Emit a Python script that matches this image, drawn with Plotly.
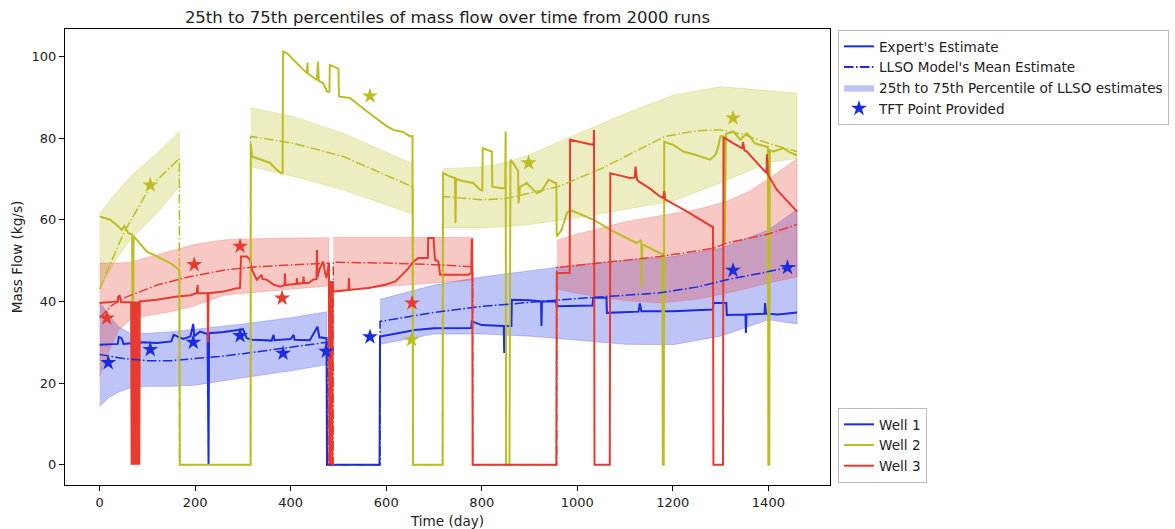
import plotly.graph_objects as go

# ---------------- data ----------------
# Well 1 expert estimate (day, kg/s)
W1_DAY = [0, 38, 40, 46, 50, 90, 120, 150, 155, 175, 190, 196, 198, 210, 226, 227, 228, 229, 260, 290, 300, 308,
          320, 360, 364, 366, 400, 406, 408, 440, 456, 460, 475, 476, 586, 587, 620, 660, 700, 778, 779, 800,
          846, 847, 848, 862, 863, 900, 924, 925, 926, 956, 957, 1000, 1032, 1033, 1061, 1062, 1128, 1131,
          1134, 1200, 1284, 1285, 1312, 1313, 1352, 1353, 1354, 1392, 1393, 1395, 1420, 1460]
W1_FLOW = [29.4, 29.6, 31.3, 31.0, 29.6, 30.0, 29.8, 30.2, 31.8, 30.8, 31.4, 34.5, 31.5, 32.6, 32.0, 0, 0, 32.2,
           32.5, 33.0, 33.2, 31.0, 30.6, 30.4, 31.8, 30.5, 30.8, 31.8, 30.6, 30.5, 33.8, 31.2, 31.0, 0, 0, 31.4,
           32.2, 33.0, 33.4, 33.5, 35.1, 34.2, 34.0, 27.4, 34.0, 34.0, 40.4, 40.3, 40.0, 34.0, 40.0, 40.0, 38.8,
           38.9, 39.0, 40.9, 40.9, 37.2, 37.5, 39.5, 37.6, 37.6, 38.0, 39.6, 39.6, 36.7, 36.8, 32.3, 36.8,
           37.0, 39.6, 37.0, 36.8, 37.3]

# Well 2 expert estimate
W2_DAY = [0, 22, 36, 46, 52, 60, 68, 69, 70, 71, 78, 99, 127, 148, 167, 168, 316, 316.5, 319, 336, 357, 371,
          381, 383, 384, 392, 406, 420, 434, 435, 436, 455, 457, 459, 468, 476, 481, 482, 500, 501, 524, 560,
          600, 615, 635, 650, 655, 656, 718, 719, 733, 744, 745, 746, 760, 782, 797, 801, 802, 821, 822, 842,
          849, 850, 851, 858, 860, 866, 876, 877, 880, 894, 915, 925, 940, 954, 956, 957, 967, 978, 985, 1034,
          1069, 1124, 1134, 1135, 1136, 1173, 1178, 1179, 1181, 1182, 1201, 1222, 1250, 1278, 1290, 1295,
          1300, 1308, 1309, 1311, 1327, 1341, 1355, 1372, 1383, 1397, 1399, 1400, 1402, 1403, 1410, 1431,
          1445, 1460]
W2_FLOW = [60.8, 60.0, 58.7, 57.5, 58.5, 56.7, 56.4, 0, 0, 56.0, 55.0, 52.2, 50.6, 49.4, 47.7, 0, 0, 78.7, 75.5,
           74.7, 73.9, 72.2, 71.4, 71.2, 101.2, 100.8, 99.1, 97.5, 95.9, 98.5, 95.8, 94.2, 98.7, 94.0, 93.4,
           91.4, 91.3, 97.9, 97.0, 90.2, 89.8, 86.5, 83.0, 82.0, 81.5, 80.4, 80.5, 0, 0, 71.4, 70.6, 70.2,
           59.2, 70.0, 69.5, 69.0, 67.3, 67.2, 77.5, 76.7, 68.1, 67.7, 67.8, 81.6, 0, 0, 74.7, 73.8, 72.0,
           64.0, 68.0, 69.0, 66.5, 67.0, 69.8, 69.0, 69.0, 55.9, 57.5, 61.6, 62.4, 60.0, 57.5, 54.3, 55.0,
           43.6, 54.0, 51.8, 51.6, 0, 0, 79.1, 78.3, 76.7, 75.8, 74.7, 76.0, 77.9, 80.5, 80.3, 54.0, 81.0,
           81.6, 79.6, 81.2, 78.7, 78.3, 77.9, 77.8, 0, 0, 77.0, 76.7, 77.5, 76.5, 75.8]

# Well 3 expert estimate
W3_DAY = [0, 38, 39, 42, 45, 66, 67, 68, 69, 70, 71, 72, 73, 74, 75, 76, 77, 78, 79, 80, 81, 82, 83, 84, 120,
          162, 190, 203, 205, 206, 226, 227, 228, 259, 287, 294, 296, 308, 315, 319, 329, 339, 341, 350, 364,
          378, 387, 388, 389, 402, 412, 413, 414, 426, 427, 428, 437, 447, 454, 455, 456, 461, 468, 472, 475,
          480, 481, 482, 483, 484, 485, 486, 487, 488, 489, 521, 522, 523, 563, 598, 619, 633, 646, 657, 667,
          687, 688, 699, 702, 709, 713, 772, 778, 779, 780, 781, 956, 957, 978, 984, 985, 1000, 1020, 1034,
          1035, 1036, 1068, 1069, 1090, 1110, 1120, 1122, 1125, 1131, 1150, 1173, 1180, 1182, 1184, 1230,
          1282, 1284, 1285, 1305, 1306, 1309, 1327, 1345, 1347, 1350, 1355, 1380, 1396, 1397, 1399, 1418,
          1440, 1460]
W3_FLOW = [39.6, 40.0, 41.2, 41.4, 39.8, 39.8, 0, 40, 0, 40, 0, 40, 0, 40, 0, 40, 0, 40, 0, 40, 0, 40, 0, 40.0,
           40.4, 41.2, 41.5, 42.0, 44.0, 42.0, 42.0, 30.0, 42.0, 42.4, 43.2, 43.3, 51.0, 51.0, 50.2, 47.7,
           45.3, 46.5, 45.5, 45.3, 44.1, 43.6, 44.0, 46.9, 44.0, 44.1, 44.3, 45.7, 44.3, 44.5, 46.1, 44.5,
           44.5, 45.3, 45.5, 52.6, 46.0, 48.1, 49.8, 47.0, 45.7, 49.4, 0, 45, 0, 45, 0, 45, 0, 45, 42.4,
           42.8, 45.7, 42.8, 43.3, 44.1, 44.9, 46.5, 48.1, 49.8, 50.6, 50.6, 55.5, 55.5, 50.2, 49.8, 46.5,
           46.5, 47.0, 55.1, 55.1, 0, 0, 46.9, 46.9, 47.0, 79.6, 79.2, 78.7, 78.3, 82.0, 0, 0, 71.4, 70.8,
           70.2, 70.3, 73.0, 69.8, 69.2, 67.8, 65.7, 65.3, 67.0, 65.0, 62.0, 58.3, 58.3, 0, 0, 80.0, 80.0,
           78.7, 77.5, 79.0, 77.0, 76.7, 73.5, 71.4, 76.0, 71.0, 67.3, 64.5, 62.0]

# LLSO mean estimates (zero while the well is shut in)
W1_MEAN_DAY = [0, 50, 100, 150, 200, 250, 300, 350, 400, 476, 476, 587, 587, 700, 800, 900, 1000, 1100, 1173,
               1250, 1313, 1400, 1460]
W1_MEAN = [27.0, 26.0, 25.5, 25.5, 26.0, 26.5, 27.2, 28.0, 28.7, 30.0, 0, 0, 35.1, 37.3, 38.8, 39.8, 40.7,
           41.5, 42.1, 43.5, 45.3, 47.3, 48.8]
W2_MEAN_DAY = [0, 11, 50, 106, 140, 167, 167, 316, 316, 406, 510, 600, 656, 656, 718, 718, 800, 850, 900, 960,
               1050, 1100, 1184, 1250, 1300, 1350, 1400, 1460]
W2_MEAN = [43.0, 46.0, 56.7, 68.1, 72.0, 75.0, 0, 0, 80.4, 78.7, 75.5, 71.0, 68.0, 0, 0, 65.7, 64.9, 65.2, 66.5,
           68.1, 72.5, 75.5, 80.4, 81.8, 82.0, 80.8, 78.7, 76.7]
W3_MEAN_DAY = [0, 25, 50, 120, 190, 263, 330, 400, 480, 480, 489, 489, 600, 700, 781, 781, 957, 957, 1050,
               1173, 1285, 1313, 1400, 1460]
W3_MEAN = [36.0, 39.0, 40.8, 44.0, 46.1, 47.7, 48.5, 49.0, 49.4, 0, 0, 49.6, 49.4, 49.0, 48.5, 0, 0, 48.3,
           49.5, 51.0, 53.0, 54.3, 56.5, 58.8]

# 25th-75th percentile bands, one list per model segment
W1_BAND_DAY = [[0, 20, 40, 64, 100, 150, 200, 300, 400, 476],
               [587, 700, 800, 900, 1000, 1100, 1200, 1300, 1400, 1460]]
W1_BAND_LO = [[14.3, 16.5, 17.8, 18.8, 19.2, 19.2, 19.5, 21.3, 23.0, 24.5],
              [29.5, 32.0, 32.0, 31.5, 30.5, 29.5, 29.4, 31.5, 35.5, 34.5]]
W1_BAND_HI = [[40.0, 36.5, 33.8, 32.2, 32.2, 32.6, 33.2, 34.5, 36.0, 37.5],
              [40.5, 44.0, 46.0, 47.5, 49.0, 50.0, 51.0, 53.0, 57.5, 62.5]]

W2_BAND_DAY = [[0, 30, 64, 120, 167],
               [316, 406, 510, 650, 656],
               [718, 800, 850, 900, 1000, 1100, 1200, 1300, 1400, 1460]]
W2_BAND_LO = [[43.0, 49.5, 55.0, 61.6, 68.0],
              [73.0, 70.6, 67.3, 61.6, 61.4],
              [58.0, 58.0, 58.3, 58.8, 60.5, 62.5, 64.5, 69.0, 74.0, 75.0]]
W2_BAND_HI = [[61.6, 66.0, 70.6, 76.3, 81.6],
              [87.5, 85.3, 81.2, 73.9, 73.7],
              [72.5, 73.0, 74.0, 76.0, 81.0, 86.0, 90.5, 92.6, 91.6, 91.0]]

W3_BAND_DAY = [[0, 20, 40, 64, 100, 150, 200, 263, 300, 400, 480],
               [489, 550, 600, 650, 700, 781],
               [957, 1000, 1050, 1100, 1173, 1250, 1313, 1360, 1400, 1430, 1460]]
W3_BAND_LO = [[21.6, 28.0, 33.0, 35.5, 36.5, 37.5, 39.0, 41.6, 42.0, 43.0, 43.8],
              [42.8, 43.2, 43.6, 44.0, 44.5, 45.2],
              [43.0, 42.0, 41.0, 40.2, 39.6, 40.5, 42.0, 43.3, 44.5, 45.3, 46.0]]
W3_BAND_HI = [[49.4, 49.4, 49.4, 49.6, 50.8, 52.5, 54.0, 55.1, 55.3, 55.5, 55.6],
              [55.7, 55.7, 55.7, 55.7, 55.7, 55.7],
              [55.0, 56.5, 58.0, 59.5, 61.0, 62.5, 64.5, 67.0, 70.0, 72.5, 75.0]]

# TFT points provided
W1_TFT_DAY = [18, 106, 196, 294, 384, 474, 566, 1326, 1440]
W1_TFT = [25.0, 28.2, 30.0, 31.6, 27.3, 27.8, 31.3, 47.6, 48.3]
W2_TFT_DAY = [106, 566, 653, 898, 1326]
W2_TFT = [68.5, 90.3, 30.6, 73.9, 84.9]
W3_TFT_DAY = [15, 198, 294, 382, 654]
W3_TFT = [35.9, 49.0, 53.5, 40.8, 39.6]

WELLS = ["Well 1", "Well 2", "Well 3"]

# ---------------- styling ----------------
BLUE = "#1a2be0"
OLIVE = "#bcbd22"
RED = "#e63b2e"
COLORS = [BLUE, OLIVE, RED]
FONT = "DejaVu Sans"
DASHDOT = "9.6px,2.4px,1.5px,2.4px"


def rgba(hexc, a):
    h = hexc.lstrip("#")
    r, g, b = int(h[0:2], 16), int(h[2:4], 16), int(h[4:6], 16)
    return f"rgba({r},{g},{b},{a})"


fig = go.Figure()

bands = [(W1_BAND_DAY, W1_BAND_LO, W1_BAND_HI),
         (W2_BAND_DAY, W2_BAND_LO, W2_BAND_HI),
         (W3_BAND_DAY, W3_BAND_LO, W3_BAND_HI)]
for (bd, blo, bhi), c in zip(bands, COLORS):
    for d, lo, hi in zip(bd, blo, bhi):
        fig.add_trace(go.Scatter(
            x=list(d) + list(d)[::-1], y=list(hi) + list(lo)[::-1],
            mode="lines", fill="toself", fillcolor=rgba(c, 0.28),
            line=dict(color=rgba(c, 0.28), width=0.8),
            showlegend=False, hoverinfo="skip"))

experts = [(W1_DAY, W1_FLOW), (W2_DAY, W2_FLOW), (W3_DAY, W3_FLOW)]
for (d, v), c in zip(experts, COLORS):
    fig.add_trace(go.Scatter(x=d, y=v, mode="lines", line=dict(color=c, width=2),
                             showlegend=False, hoverinfo="skip"))

means = [(W1_MEAN_DAY, W1_MEAN), (W2_MEAN_DAY, W2_MEAN), (W3_MEAN_DAY, W3_MEAN)]
for (d, v), c in zip(means, COLORS):
    fig.add_trace(go.Scatter(x=d, y=v, mode="lines", line=dict(color=c, width=1.5, dash=DASHDOT),
                             showlegend=False, hoverinfo="skip"))

tfts = [(W1_TFT_DAY, W1_TFT), (W2_TFT_DAY, W2_TFT), (W3_TFT_DAY, W3_TFT)]
for (d, v), c in zip(tfts, COLORS):
    fig.add_trace(go.Scatter(x=d, y=v, mode="markers",
                             marker=dict(symbol="star", size=12, color=c, line=dict(width=0)),
                             showlegend=False, hoverinfo="skip"))

# legend 1 (style keys)
fig.add_trace(go.Scatter(x=[None], y=[None], mode="lines", name="Expert's Estimate",
                         line=dict(color=BLUE, width=2), legend="legend"))
fig.add_trace(go.Scatter(x=[None], y=[None], mode="lines", name="LLSO Model's Mean Estimate",
                         line=dict(color=BLUE, width=2, dash=DASHDOT), legend="legend"))
fig.add_trace(go.Scatter(x=[None], y=[None], mode="lines", fill="toself", fillcolor=rgba(BLUE, 0.28),
                         line=dict(color=rgba(BLUE, 0.28), width=0.5),
                         name="25th to 75th Percentile of LLSO estimates", legend="legend"))
fig.add_trace(go.Scatter(x=[None], y=[None], mode="markers", name="TFT Point Provided",
                         marker=dict(symbol="star", size=12, color=BLUE), legend="legend"))
# legend 2 (wells)
for name, c in zip(WELLS, COLORS):
    fig.add_trace(go.Scatter(x=[None], y=[None], mode="lines", name=name,
                             line=dict(color=c, width=2), legend="legend2"))

axis_common = dict(showline=True, mirror=True, linecolor="black", linewidth=1, ticks="outside",
                   ticklen=5, tickcolor="black", showgrid=False, zeroline=False, automargin=False,
                   tickfont=dict(family=FONT, size=13, color="#222"))

legend_common = dict(xref="container", yref="container", xanchor="left", yanchor="top", bgcolor="white",
                     bordercolor="#bbbbbb", borderwidth=1, font=dict(family=FONT, size=13.6, color="#222"),
                     tracegroupgap=0)

fig.update_layout(
    width=1175, height=529,
    margin=dict(l=65, r=345, t=29, b=44),
    paper_bgcolor="white", plot_bgcolor="white",
    font=dict(family=FONT, size=13.6, color="#222"),
    title=dict(text="25th to 75th percentiles of mass flow over time from 2000 runs",
               x=0.5, xanchor="center", xref="paper", y=1 - 17 / 529, yanchor="middle",
               font=dict(family=FONT, size=16.5, color="#222")),
    xaxis=dict(range=[-72.5, 1529], tick0=0, dtick=200,
               title=dict(text="Time (day)", font=dict(family=FONT, size=13.6), standoff=13),
               **axis_common),
    yaxis=dict(range=[-4.95, 106.7], tick0=0, dtick=20,
               title=dict(text="Mass Flow (kg/s)", font=dict(family=FONT, size=13.6), standoff=5),
               **axis_common),
    legend=dict(x=838 / 1175, y=1 - 30 / 529, **legend_common),
    legend2=dict(x=838 / 1175, y=1 - 408 / 529, **legend_common),
)

fig.write_html("out.html")
